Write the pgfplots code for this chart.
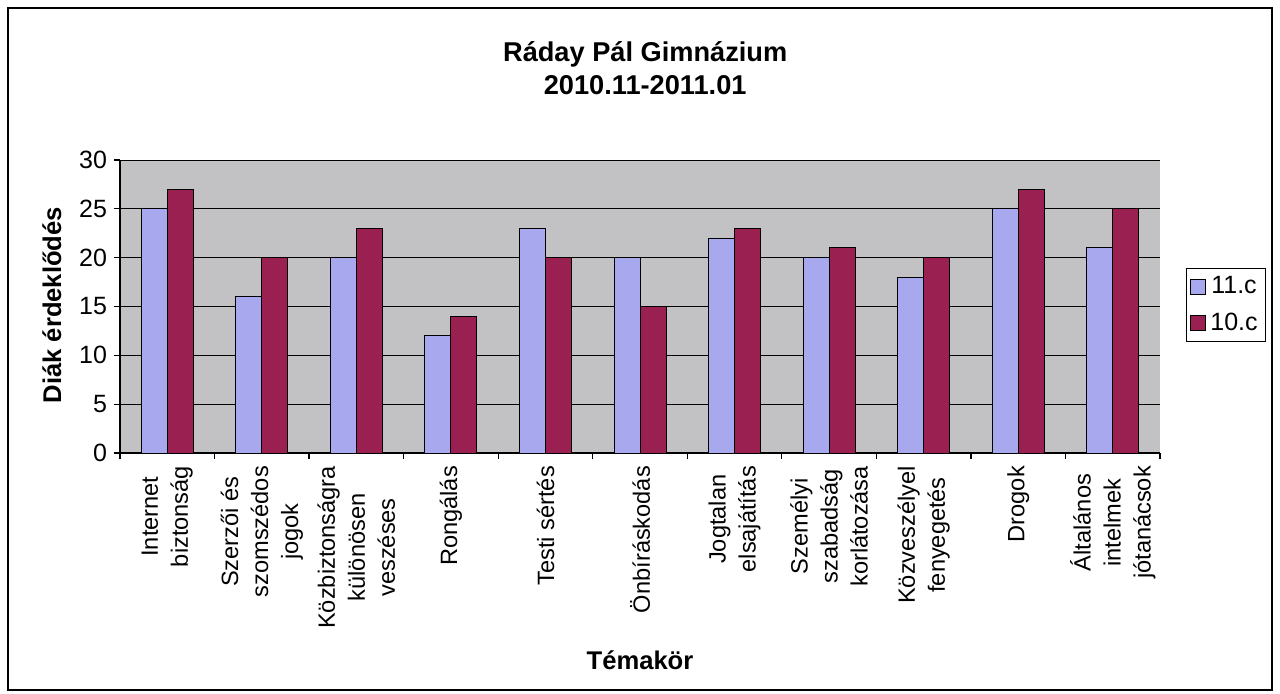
\documentclass[border=0pt]{standalone}
\usepackage{fontspec}
\setmainfont{Liberation Sans}
\usepackage{pgfplots}
\pgfplotsset{compat=1.18}
\definecolor{bar11}{HTML}{A8A8EE}
\definecolor{bar10}{HTML}{9A2052}
\definecolor{plotbg}{HTML}{C2C2C4}
\begin{document}
\begin{tikzpicture}[x=1pt,y=1pt]
\begin{axis}[
    at={(0,0)}, anchor=south west,
    scale only axis, width=520pt, height=146.5pt,
    /pgf/number format/assume math mode=true,
    ybar=0pt, bar width=13pt,
    xmin=-0.5, xmax=10.5,
    ymin=0, ymax=30, ytick={0,5,...,30},
    xtick={0,...,10},
    xticklabels={{Internet\\biztonság},{Szerzői és\\szomszédos\\jogok},{Közbiztonságra\\különösen\\veszéses},{Rongálás},{Testi sértés},{Önbíráskodás},{Jogtalan\\elsajátítás},{Személyi\\szabadság\\korlátozása},{Közveszélyel\\fenyegetés},{Drogok},{Általános\\intelmek\\jótanácsok}},
    minor xtick={-0.5,0.5,...,10.5},
    major x tick style={draw=none},
    tick align=outside, major tick length=3pt, minor tick length=3pt,
    tick style={black, line width=0.6pt},
    axis x line*=bottom, axis y line*=left,
    axis line style={black, line width=0.8pt, -},
    axis background/.style={fill=plotbg},
    ymajorgrids, grid style={black, line width=0.5pt},
    x tick label style={rotate=90, anchor=east, align=center, font=\fontsize{11.8}{15}\selectfont},
    y tick label style={font=\fontsize{12.5}{14}\selectfont},
    title={\textbf{Ráday Pál Gimnázium}\\\textbf{2010.11-2011.01}},
    title style={at={(axis description cs:0.505,1.272)}, anchor=center, align=center, font=\fontsize{13.6}{16.5}\selectfont},
    xlabel={\textbf{Témakör}},
    xlabel style={at={(axis description cs:0.5,-0.7065)}, anchor=center, font=\fontsize{12.8}{15}\selectfont},
    ylabel={\textbf{Diák érdeklődés}},
    ylabel style={at={(axis description cs:-0.0654,0.505)}, anchor=center, rotate=0, font=\fontsize{12.8}{15}\selectfont},
    legend style={at={(axis description cs:1.025,0.631)}, anchor=north west, draw=black, fill=white, font=\fontsize{12.5}{14}\selectfont, row sep=4pt, inner sep=2pt},
    legend image code/.code={\draw[#1] (0pt,-3.7pt) rectangle (7.5pt,3.7pt);},
]
\addplot[fill=bar11, draw=black, line width=0.5pt] coordinates {
    (0,25) (1,16) (2,20) (3,12) (4,23) (5,20) (6,22) (7,20) (8,18) (9,25) (10,21)
};
\addplot[fill=bar10, draw=black, line width=0.5pt] coordinates {
    (0,27) (1,20) (2,23) (3,14) (4,20) (5,15) (6,23) (7,21) (8,20) (9,27) (10,25)
};
\legend{11.c,10.c}
\end{axis}
\draw[line width=1pt] (-56,-118.5) rectangle (576,222.5);
\path (-60,-120) rectangle (580,226.5);
\end{tikzpicture}
\end{document}
